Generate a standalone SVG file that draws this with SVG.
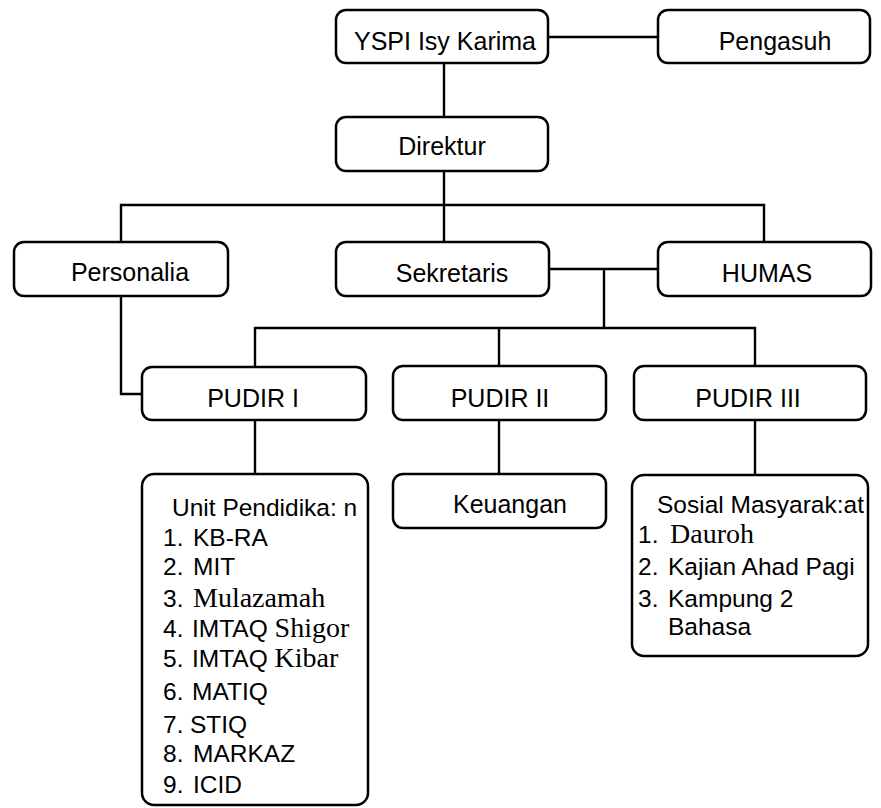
<svg xmlns="http://www.w3.org/2000/svg" width="881" height="808" viewBox="0 0 881 808">
<style>
.box{fill:#fff;stroke:#000;stroke-width:2.5}
.lbl{font-family:"Liberation Sans",Arial,sans-serif;font-size:25px;fill:#000;text-anchor:middle}
.lst{font-family:"Liberation Sans",Arial,sans-serif;font-size:24.5px;fill:#000}
.srf{font-family:"Liberation Serif","Times New Roman",serif;font-size:28px}
.con{fill:none;stroke:#000;stroke-width:2.4}
</style>
<rect width="881" height="808" fill="#fff"/>
<g id="connectors" class="con">
<path d="M548 37H658"/>
<path d="M444 63V117"/>
<path d="M444 171V242"/>
<path d="M121 242V205H764V242"/>
<path d="M121 296V394H142"/>
<path d="M549 269H658"/>
<path d="M604 269V328"/>
<path d="M255 367V328H755V366"/>
<path d="M499 328V366"/>
<path d="M255 420V474"/>
<path d="M499 420V474"/>
<path d="M755 420V475"/>
</g>
<g id="yspi"><rect class="box" x="336" y="10" width="212" height="53" rx="10"/><text class="lbl" x="445" y="50">YSPI Isy Karima</text></g>
<g id="pengasuh"><rect class="box" x="658" y="10" width="212" height="53" rx="10"/><text class="lbl" x="775" y="50">Pengasuh</text></g>
<g id="direktur"><rect class="box" x="336" y="117" width="212" height="54" rx="10"/><text class="lbl" x="442" y="155">Direktur</text></g>
<g id="personalia"><rect class="box" x="14" y="242" width="214" height="54" rx="10"/><text class="lbl" x="130" y="281">Personalia</text></g>
<g id="sekretaris"><rect class="box" x="336" y="242" width="213" height="54" rx="10"/><text class="lbl" x="452" y="282">Sekretaris</text></g>
<g id="humas"><rect class="box" x="658" y="242" width="213" height="54" rx="10"/><text class="lbl" x="767" y="282">HUMAS</text></g>
<g id="pudir1"><rect class="box" x="142" y="367" width="224" height="53" rx="10"/><text class="lbl" x="253" y="407">PUDIR I</text></g>
<g id="pudir2"><rect class="box" x="393" y="366" width="213" height="54" rx="10"/><text class="lbl" x="500" y="407">PUDIR II</text></g>
<g id="pudir3"><rect class="box" x="634" y="366" width="232" height="54" rx="10"/><text class="lbl" x="748" y="407">PUDIR III</text></g>
<g id="keuangan"><rect class="box" x="393" y="474" width="213" height="54" rx="10"/><text class="lbl" x="510" y="513">Keuangan</text></g>
<g id="unit">
<rect class="box" x="142" y="474" width="226" height="331" rx="12"/>
<text class="lst" x="172" y="516">Unit Pendidika: n</text>
<text class="lst" y="546"><tspan x="163">1.</tspan><tspan x="193">KB-RA</tspan></text>
<text class="lst" y="575"><tspan x="163">2.</tspan><tspan x="193">MIT</tspan></text>
<text class="lst" y="607"><tspan x="163">3.</tspan><tspan x="193" class="srf">Mulazamah</tspan></text>
<text class="lst" y="637"><tspan x="163">4.</tspan><tspan x="192">IMTAQ </tspan><tspan class="srf">Shigor</tspan></text>
<text class="lst" y="667"><tspan x="163">5.</tspan><tspan x="192">IMTAQ </tspan><tspan class="srf">Kibar</tspan></text>
<text class="lst" y="700"><tspan x="163">6.</tspan><tspan x="192">MATIQ</tspan></text>
<text class="lst" y="733"><tspan x="163">7.</tspan><tspan x="190">STIQ</tspan></text>
<text class="lst" y="762"><tspan x="163">8.</tspan><tspan x="193">MARKAZ</tspan></text>
<text class="lst" y="793"><tspan x="163">9.</tspan><tspan x="193">ICID</tspan></text>
</g>
<g id="sosial">
<rect class="box" x="632" y="475" width="236" height="181" rx="12"/>
<text class="lst" x="657" y="513">Sosial Masyarak:at</text>
<text class="lst" y="543"><tspan x="638">1.</tspan><tspan x="670" class="srf">Dauroh</tspan></text>
<text class="lst" y="575"><tspan x="638">2.</tspan><tspan x="668">Kajian Ahad Pagi</tspan></text>
<text class="lst" y="607"><tspan x="638">3.</tspan><tspan x="668">Kampung 2</tspan></text>
<text class="lst" x="668" y="635">Bahasa</text>
</g>
</svg>
